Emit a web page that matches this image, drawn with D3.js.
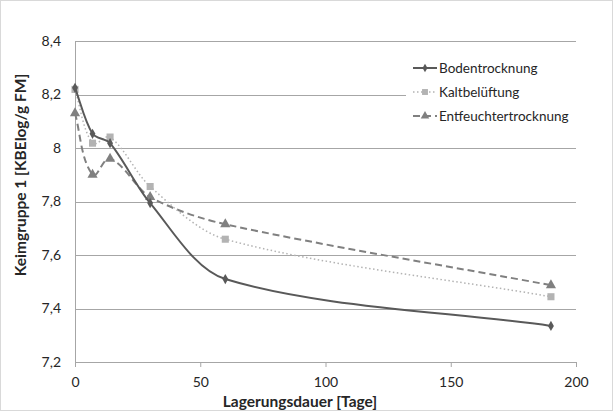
<!DOCTYPE html>
<html>
<head>
<meta charset="utf-8">
<script src="https://cdn.jsdelivr.net/npm/d3@7"></script>
<style>
  body { margin: 0; background: #fff; }
  text { font-family: Lato, "Open Sans", sans-serif; }
</style>
</head>
<body>
<div id="chart"></div>
<script>
// data
var days = [0, 7, 14, 30, 60, 190];
var boden = [8.225, 8.053, 8.018, 7.794, 7.51, 7.335];
var kalt = [8.219, 8.018, 8.041, 7.856, 7.659, 7.444];
var entfeucht = [8.13, 7.9, 7.96, 7.817, 7.715, 7.487];
var seriesNames = ["Bodentrocknung", "Kaltbelüftung", "Entfeuchtertrocknung"];
var yTicks = [7.2, 7.4, 7.6, 7.8, 8, 8.2, 8.4];
var xTicks = [0, 50, 100, 150, 200];

var svgWidth = 613, svgHeight = 411;
var margin = {top: 41, right: 37, bottom: 49, left: 75};
var width = svgWidth - margin.left - margin.right;
var height = svgHeight - margin.top - margin.bottom;

var svg = d3.select("#chart").append("svg")
  .attr("width", svgWidth)
  .attr("height", svgHeight);

// outer frame
svg.append("rect")
  .attr("x", 0.5).attr("y", 0.5)
  .attr("width", svgWidth - 1).attr("height", svgHeight - 1)
  .attr("fill", "#fff").attr("stroke", "#d9d9d9");

var g = svg.append("g").attr("transform", `translate(${margin.left},${margin.top})`);

var x = d3.scaleLinear().domain([0, 200]).range([0, width]);
var y = d3.scaleLinear().domain([7.2, 8.4]).range([height, 0]);
var fmt = d => d3.format(".1f")(d).replace(".0", "").replace(".", ",");

// gridlines
g.selectAll(".grid").data(yTicks.slice(1)).enter().append("line")
  .attr("x1", 0).attr("x2", width)
  .attr("y1", d => Math.round(y(d)) + 0.5).attr("y2", d => Math.round(y(d)) + 0.5)
  .attr("stroke", "#a6a6a6");

// y axis
var yAxis = g.append("g").call(d3.axisLeft(y).tickValues(yTicks).tickFormat(fmt).tickSize(0).tickPadding(14));
yAxis.select(".domain").attr("stroke", "#a6a6a6");
yAxis.selectAll("text").attr("font-size", 14).attr("fill", "#262626");

// x axis
var xAxis = g.append("g").attr("transform", `translate(0,${height})`)
  .call(d3.axisBottom(x).tickValues(xTicks).tickSize(5).tickPadding(10));
xAxis.select(".domain").attr("stroke", "#a6a6a6");
xAxis.selectAll("line").attr("stroke", "#a6a6a6");
xAxis.selectAll("text").attr("font-size", 14).attr("fill", "#262626");

// axis titles
svg.append("text")
  .attr("x", 300).attr("y", 407)
  .attr("text-anchor", "middle").attr("font-size", 15.5).attr("font-weight", "bold")
  .attr("fill", "#262626")
  .text("Lagerungsdauer [Tage]");
svg.append("text")
  .attr("transform", "translate(26,175) rotate(-90)")
  .attr("text-anchor", "middle").attr("font-size", 15.5).attr("font-weight", "bold")
  .attr("fill", "#262626")
  .text("Keimgruppe 1 [KBElog/g FM]");

var series = [
  {name: seriesNames[0], values: boden, color: "#595959", dash: null, width: 2, marker: d3.symbolDiamond, size: 30},
  {name: seriesNames[1], values: kalt, color: "#b3b3b3", dash: "1.5,2.5", width: 1.5, marker: d3.symbolSquare, size: 50},
  {name: seriesNames[2], values: entfeucht, color: "#808080", dash: "7,4", width: 2, marker: d3.symbolTriangle, size: 45}
];

// Excel-like smoothing: tangent direction from neighbours, handle length from the adjacent segment
function smoothPath(pts) {
  var p = pts.map(d => [x(d[0]), y(d[1])]);
  var k = 0.3, n = p.length;
  var dist = (a, b) => Math.hypot(b[0] - a[0], b[1] - a[1]);
  var dirs = p.map(function(pt, i) {
    var a = p[Math.max(0, i - 1)], b = p[Math.min(n - 1, i + 1)];
    var l = dist(a, b);
    return [(b[0] - a[0]) / l, (b[1] - a[1]) / l];
  });
  var path = d3.path();
  path.moveTo(p[0][0], p[0][1]);
  for (var i = 0; i < n - 1; i++) {
    var l = dist(p[i], p[i + 1]) * k;
    var d0 = i === 0 ? [(p[1][0] - p[0][0]) / dist(p[0], p[1]), (p[1][1] - p[0][1]) / dist(p[0], p[1])] : dirs[i];
    var d1 = i + 1 === n - 1 ? [(p[i + 1][0] - p[i][0]) / dist(p[i], p[i + 1]), (p[i + 1][1] - p[i][1]) / dist(p[i], p[i + 1])] : dirs[i + 1];
    path.bezierCurveTo(p[i][0] + d0[0] * l, p[i][1] + d0[1] * l,
      p[i + 1][0] - d1[0] * l, p[i + 1][1] - d1[1] * l,
      p[i + 1][0], p[i + 1][1]);
  }
  return path.toString();
}

series.slice().reverse().forEach(function(s) {
  var pts = days.map((d, i) => [d, s.values[i]]);
  g.append("path")
    .attr("d", smoothPath(pts))
    .attr("fill", "none")
    .attr("stroke", s.color)
    .attr("stroke-width", s.width)
    .attr("stroke-dasharray", s.dash);
  g.selectAll(null).data(pts).enter().append("path")
    .attr("d", d3.symbol().type(s.marker).size(s.size))
    .attr("transform", d => `translate(${x(d[0])},${y(d[1])})`)
    .attr("fill", s.color);
});

// legend
var legend = svg.append("g").attr("transform", "translate(406,56)");
legend.append("rect").attr("width", 176).attr("height", 72).attr("fill", "#fff");
series.forEach(function(s, i) {
  var row = legend.append("g").attr("transform", `translate(0,${12 + i * 24})`);
  row.append("line").attr("x1", 7).attr("x2", 31).attr("y1", 0).attr("y2", 0)
    .attr("stroke", s.color).attr("stroke-width", s.width).attr("stroke-dasharray", s.dash);
  row.append("path").attr("d", d3.symbol().type(s.marker).size(s.size * 0.7))
    .attr("transform", "translate(19,0)").attr("fill", s.color);
  row.append("text").attr("x", 33).attr("y", 0).attr("dy", "0.35em")
    .attr("font-size", 13.5).attr("fill", "#262626").text(s.name);
});
</script>
</body>
</html>
